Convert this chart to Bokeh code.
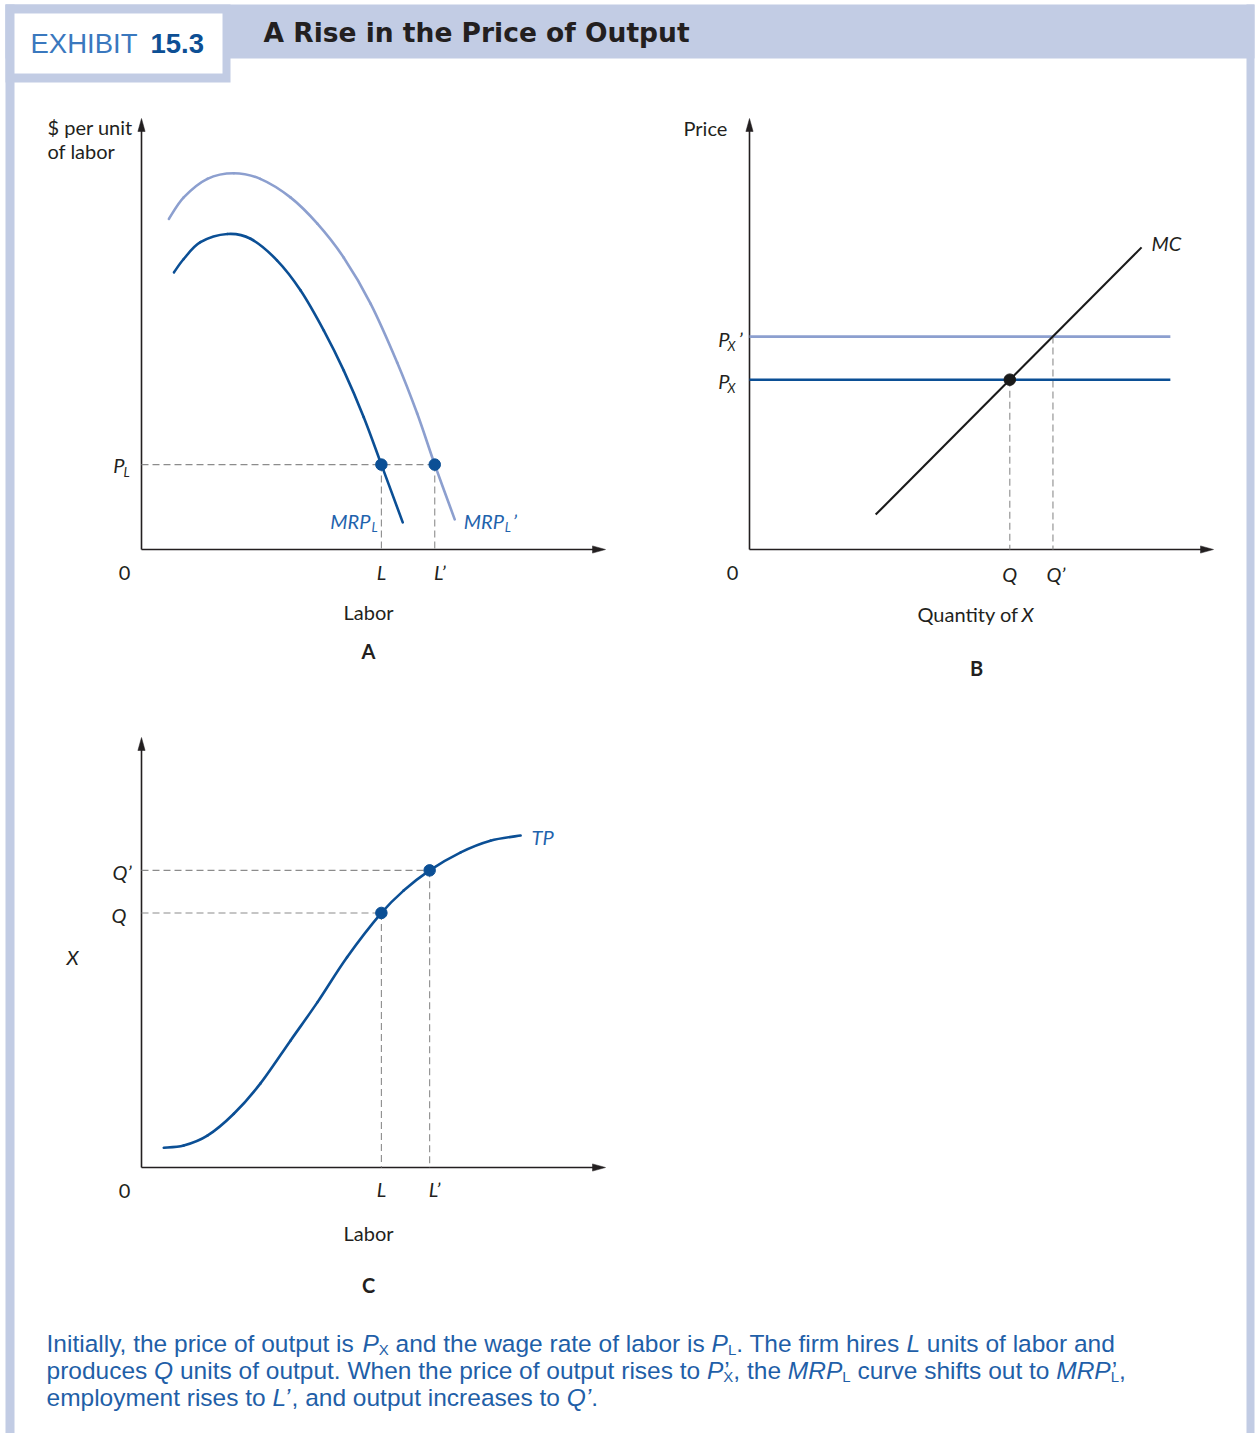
import numpy as np
from bokeh.plotting import figure
from bokeh.models import Range1d
from bokeh.core.properties import value
from bokeh.embed import file_html
from bokeh.resources import INLINE

# ---------------------------------------------------------------------------
# Data (each panel uses its own 0..10 units)
# ---------------------------------------------------------------------------
# Panel A: MRP_L before and after the rise in output price
mrp_x = [0.70, 0.91, 1.27, 1.85, 2.35, 2.92, 3.43, 3.93, 4.36, 4.79, 5.17, 5.63]
mrp_y = [6.43, 6.74, 7.13, 7.32, 7.21, 6.71, 6.01, 5.08, 4.15, 3.07, 1.97, 0.63]
mrp2_x = [0.59, 0.91, 1.42, 1.99, 2.56, 3.21, 3.79, 4.36, 4.94, 5.51, 5.94, 6.32, 6.75]
mrp2_y = [7.67, 8.17, 8.60, 8.73, 8.60, 8.17, 7.56, 6.77, 5.70, 4.34, 3.16, 1.97, 0.70]
wage = 1.97                 # P_L
labor_a = [5.17, 6.32]      # L, L'

# Panel B: output price lines and marginal cost
price_levels = [3.94, 4.94]  # P_X, P_X'
price_line_end = 9.07
mc_x = [2.72, 8.45]
mc_y = [0.81, 7.01]
quantities = [5.61, 6.54]    # Q, Q'

# Panel C: total product
tp_x = [0.48, 0.91, 1.42, 1.99, 2.56, 3.21, 3.79, 4.43, 5.17, 5.65, 6.21, 6.88, 7.52, 8.17]
tp_y = [0.46, 0.51, 0.74, 1.25, 1.95, 2.95, 3.84, 4.89, 5.92, 6.44, 6.91, 7.33, 7.60, 7.72]
labor_c = [5.17, 6.21]       # L, L'
output_c = [5.92, 6.91]      # Q, Q'

AXIS_LEN = 10.0

# ---------------------------------------------------------------------------
# Styling
# ---------------------------------------------------------------------------
W, H = 1257, 1433
INK = "#231f20"
DARK_BLUE = "#0b4f95"
LIGHT_BLUE = "#8c9fcf"
LABEL_BLUE = "#1f63ad"
DASH = "#8c8c8c"
FRAME = "#c2cce4"
CAPTION_BLUE = "#1f5fa8"
PANEL_FONT = "Lato"
CAPTION_FONT = "Liberation Sans"
FS = 20      # panel label size
FS_SUB = 13  # panel subscript size

p = figure(width=W, height=H, x_range=Range1d(0, W), y_range=Range1d(H, 0),
           output_backend="svg", toolbar_location=None, tools="",
           min_border=0, x_axis_type=None, y_axis_type=None,
           outline_line_color=None, background_fill_color="white",
           border_fill_color="white")
p.xgrid.visible = False
p.ygrid.visible = False

# Panel placement: origin pixel and pixels per unit
PANELS = {
    "a": (141, 549, 46.4, 43.1),
    "b": (749, 549, 46.4, 43.1),
    "c": (141, 1167, 46.4, 43.0),
}
xr, yr = {}, {}
for key, (px0, py0, sx, sy) in PANELS.items():
    xs = -px0 / sx
    xr[key + "x"] = Range1d(xs, xs + W / sx)
    ys = -(H - py0) / sy
    yr[key + "y"] = Range1d(ys, ys + H / sy)
p.extra_x_ranges = xr
p.extra_y_ranges = yr


def rn(key):
    return dict(x_range_name=key + "x", y_range_name=key + "y")


def label(x, y, s, key=None, size=FS, color=INK, style="normal", align="center",
          dx=0, dy=0, font=PANEL_FONT):
    kw = rn(key) if key else {}
    p.text(x=[x], y=[y], text=[s], text_font=value(font),
           text_font_size=f"{size}px", text_font_style=style, text_color=color,
           text_align=align, text_baseline="middle", x_offset=dx, y_offset=dy, **kw)


def smooth(xs, ys, key, color, width):
    x = np.asarray(xs, float)
    y = np.asarray(ys, float)
    n = len(x)
    xp = np.concatenate([[x[0]], x, [x[-1]]])
    yp = np.concatenate([[y[0]], y, [y[-1]]])
    cx0 = x[:-1] + (xp[2:n + 1] - xp[0:n - 1]) / 6
    cy0 = y[:-1] + (yp[2:n + 1] - yp[0:n - 1]) / 6
    cx1 = x[1:] - (xp[3:n + 2] - xp[1:n]) / 6
    cy1 = y[1:] - (yp[3:n + 2] - yp[1:n]) / 6
    p.bezier(x0=x[:-1], y0=y[:-1], x1=x[1:], y1=y[1:], cx0=cx0, cy0=cy0,
             cx1=cx1, cy1=cy1, line_color=color, line_width=width,
             line_cap="round", **rn(key))


# ---------------------------------------------------------------------------
# Frame
# ---------------------------------------------------------------------------
p.quad(left=[5, 5, 5, 1246], right=[1254, 230, 14, 1254],
       top=[4, 4, 4, 4], bottom=[58, 82, H, H],
       fill_color=FRAME, line_color=None)
p.quad(left=[14], right=[222], top=[13], bottom=[73], fill_color="white", line_color=None)

label(30, 43, "EXHIBIT", size=27.5, color="#3a78be", align="left", font=CAPTION_FONT)
label(150, 43, "15.3", size=27.5, color="#0d4f94", style="bold", align="left",
      font=CAPTION_FONT)
label(263, 32, "A Rise in the Price of Output", size=26.5, color=INK, style="bold",
      align="left", font="DejaVu Sans")

# ---------------------------------------------------------------------------
# Axes with arrowheads
# ---------------------------------------------------------------------------
for key, (px0, py0, sx, sy) in PANELS.items():
    p.segment(x0=[0, 0], y0=[0, 0], x1=[0, AXIS_LEN - 0.2], y1=[AXIS_LEN - 0.2, 0],
              line_color=INK, line_width=1.6, **rn(key))
    tx, ty = px0, py0 - AXIS_LEN * sy
    rx, ry = px0 + AXIS_LEN * sx, py0
    p.patches(xs=[[tx, tx - 3.6, tx + 3.6], [rx, rx - 13, rx - 13]],
              ys=[[ty, ty + 13, ty + 13], [ry, ry - 3.6, ry + 3.6]],
              fill_color=INK, line_color=INK, line_width=0.5)

# ---------------------------------------------------------------------------
# Panel A
# ---------------------------------------------------------------------------
p.segment(x0=[0], y0=[wage], x1=[labor_a[1]], y1=[wage], line_color=DASH,
          line_width=1.1, line_dash="7 4", **rn("a"))
p.segment(x0=labor_a, y0=[wage, wage], x1=labor_a, y1=[0, 0], line_color=DASH,
          line_width=1.1, line_dash="7 4", **rn("a"))
smooth(mrp2_x, mrp2_y, "a", LIGHT_BLUE, 2.6)
smooth(mrp_x, mrp_y, "a", DARK_BLUE, 2.6)
p.scatter(x=labor_a, y=[wage, wage], size=11.5, fill_color=DARK_BLUE,
          line_color=DARK_BLUE, **rn("a"))

label(47, 126, "$ per unit", align="left")
label(47, 150, "of labor", align="left")
label(124, 572, "0")
label(368, 611, "Labor")
label(368, 650, "A", style="bold")
label(0, wage, "P", key="a", style="italic", align="right", dx=-17)
label(0, wage, "L", key="a", size=FS_SUB, style="italic", align="left", dx=-18, dy=7)
label(labor_a[0], 0, "MRP", key="a", color=LABEL_BLUE, style="italic", align="right", dx=-11, dy=-29)
label(labor_a[0], 0, "L", key="a", size=FS_SUB, color=LABEL_BLUE, style="italic", align="left", dx=-10, dy=-23)
label(labor_a[1], 0, "MRP", key="a", color=LABEL_BLUE, style="italic", align="left", dx=29, dy=-29)
label(labor_a[1], 0, "L", key="a", size=FS_SUB, color=LABEL_BLUE, style="italic", align="left", dx=70, dy=-23)
label(labor_a[1], 0, "\u2019", key="a", color=LABEL_BLUE, style="italic", align="left", dx=78, dy=-29)
label(labor_a[0], 0, "L", key="a", style="italic", dy=22)
label(labor_a[1], 0, "L\u2019", key="a", style="italic", dx=5, dy=22)

# ---------------------------------------------------------------------------
# Panel B
# ---------------------------------------------------------------------------
p.segment(x0=quantities, y0=price_levels, x1=quantities, y1=[0, 0], line_color=DASH,
          line_width=1.1, line_dash="7 4", **rn("b"))
p.segment(x0=[0], y0=[price_levels[1]], x1=[price_line_end], y1=[price_levels[1]],
          line_color=LIGHT_BLUE, line_width=2.6, **rn("b"))
p.segment(x0=[0], y0=[price_levels[0]], x1=[price_line_end], y1=[price_levels[0]],
          line_color=DARK_BLUE, line_width=2.6, **rn("b"))
p.line(x=mc_x, y=mc_y, line_color="#1a1a1a", line_width=2.1, **rn("b"))
p.scatter(x=[quantities[0]], y=[price_levels[0]], size=11.5, fill_color="#1a1a1a",
          line_color="#1a1a1a", **rn("b"))

label(683, 127, "Price", align="left")
label(732, 572, "0")
label(1018, 613, "Quantity of", align="right")
label(1021, 613, "X", style="italic", align="left")
label(976, 667, "B", style="bold")
label(mc_x[1], mc_y[1], "MC", key="b", style="italic", align="left", dx=10, dy=-4)
label(0, price_levels[1], "P", key="b", style="italic", align="right", dx=-20, dy=2)
label(0, price_levels[1], "X", key="b", size=FS_SUB, style="italic", align="left", dx=-22, dy=9)
label(0, price_levels[1], "\u2019", key="b", style="italic", align="left", dx=-11, dy=2)
label(0, price_levels[0], "P", key="b", style="italic", align="right", dx=-20, dy=1)
label(0, price_levels[0], "X", key="b", size=FS_SUB, style="italic", align="left", dx=-22, dy=8)
label(quantities[0], 0, "Q", key="b", style="italic", dy=24)
label(quantities[1], 0, "Q\u2019", key="b", style="italic", dx=3, dy=24)

# ---------------------------------------------------------------------------
# Panel C
# ---------------------------------------------------------------------------
p.segment(x0=[0, 0], y0=output_c, x1=labor_c, y1=output_c, line_color=DASH,
          line_width=1.1, line_dash="7 4", **rn("c"))
p.segment(x0=labor_c, y0=output_c, x1=labor_c, y1=[0, 0], line_color=DASH,
          line_width=1.1, line_dash="7 4", **rn("c"))
smooth(tp_x, tp_y, "c", DARK_BLUE, 2.6)
p.scatter(x=labor_c, y=output_c, size=11.5, fill_color=DARK_BLUE,
          line_color=DARK_BLUE, **rn("c"))

label(72, 956, "X", style="italic")
label(124, 1190, "0")
label(368, 1232, "Labor")
label(368, 1284, "C", style="bold")
label(tp_x[-1], tp_y[-1], "TP", key="c", color=LABEL_BLUE, style="italic", align="left", dx=11, dy=1)
label(0, output_c[1], "Q\u2019", key="c", style="italic", align="right", dx=-10, dy=2)
label(0, output_c[0], "Q", key="c", style="italic", align="right", dx=-15, dy=2)
label(labor_c[0], 0, "L", key="c", style="italic", dy=21)
label(labor_c[1], 0, "L\u2019", key="c", style="italic", dx=5, dy=21)

# ---------------------------------------------------------------------------
# Caption (mixed roman / italic / subscript runs)
# ---------------------------------------------------------------------------
ADV = {" ": 278, ",": 278, ".": 278, "\u2019": 222,
       "a": 556, "b": 556, "c": 500, "d": 556, "e": 556, "f": 278, "g": 556,
       "h": 556, "i": 222, "j": 222, "k": 500, "l": 222, "m": 833, "n": 556,
       "o": 556, "p": 556, "q": 556, "r": 333, "s": 500, "t": 278, "u": 556,
       "v": 500, "w": 722, "x": 500, "y": 500, "z": 500,
       "I": 278, "L": 556, "M": 833, "P": 667, "Q": 778, "R": 722, "T": 611,
       "W": 944, "X": 667}


def run_width(s, size):
    return sum(ADV.get(c, 556) for c in s) * size / 1000.0


CAP_SIZE = 24.5
SUB_SIZE = 15
caption = [
    [("Initially, the price of output is ", "n"), ("P", "i"), ("X", "sub"),
     (" and the wage rate of labor is ", "n"), ("P", "i"), ("L", "sub"),
     (". The firm hires ", "n"), ("L", "i"), (" units of labor and", "n")],
    [("produces ", "n"), ("Q", "i"), (" units of output. When the price of output rises to ", "n"),
     ("P", "i"), ("X", "stack"), (", the ", "n"), ("MRP", "i"), ("L", "sub"),
     (" curve shifts out to ", "n"), ("MRP", "i"), ("L", "stack"), (",", "n")],
    [("employment rises to ", "n"), ("L\u2019", "i"), (", and output increases to ", "n"),
     ("Q\u2019", "i"), (".", "n")],
]
line_centers = [1343, 1370, 1397]
for runs, cy in zip(caption, line_centers):
    x = 46.0
    for s, kind in runs:
        if kind in ("n", "i"):
            lead = len(s) - len(s.lstrip(" "))
            label(x + run_width(" " * lead, CAP_SIZE), cy, s.strip(" "), size=CAP_SIZE,
                  color=CAPTION_BLUE, style="italic" if kind == "i" else "normal",
                  align="left", font=CAPTION_FONT)
            x += run_width(s, CAP_SIZE)
        else:
            label(x, cy + 6, s, size=SUB_SIZE, color=CAPTION_BLUE, align="left",
                  font=CAPTION_FONT)
            adv = run_width(s, SUB_SIZE)
            if kind == "stack":
                label(x + 1, cy, "\u2019", size=CAP_SIZE, color=CAPTION_BLUE,
                      align="left", font=CAPTION_FONT)
                adv = max(adv, run_width("\u2019", CAP_SIZE) + 3)
            x += adv

open("out.html", "w").write(file_html(p, INLINE))
